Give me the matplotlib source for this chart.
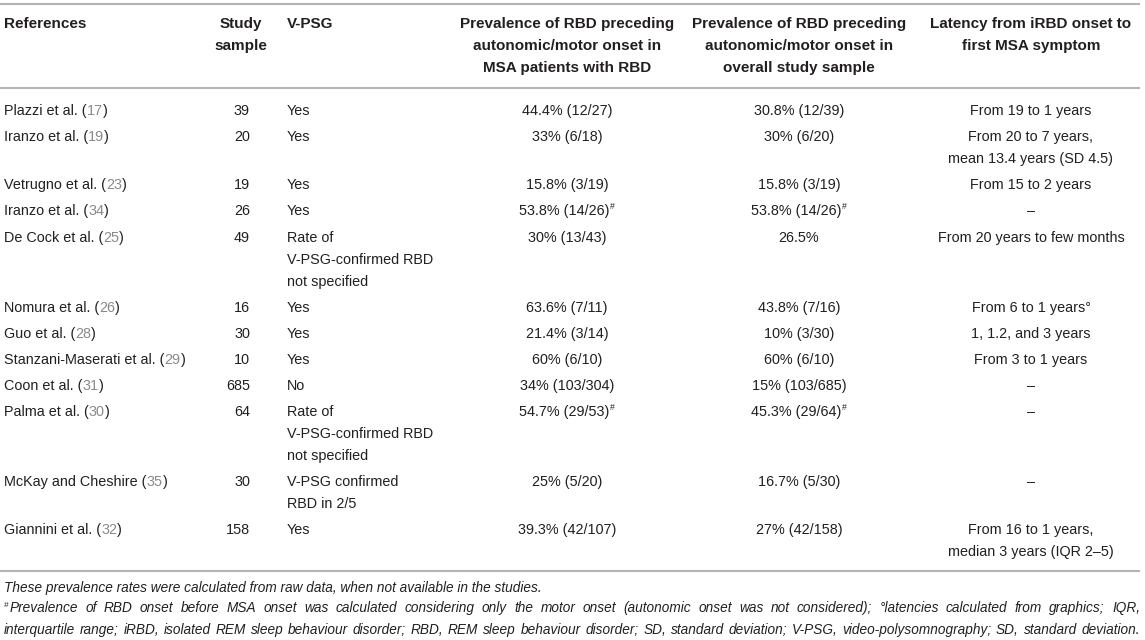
import matplotlib
matplotlib.use("Agg")
import matplotlib.pyplot as plt

# table content
headers = [
    "References",
    "Study\nsample",
    "V-PSG",
    "Prevalence of RBD preceding\nautonomic/motor onset in\nMSA patients with RBD",
    "Prevalence of RBD preceding\nautonomic/motor onset in\noverall study sample",
    "Latency from iRBD onset to\nfirst MSA symptom",
]
references = ["Plazzi et al.", "Iranzo et al.", "Vetrugno et al.", "Iranzo et al.",
              "De Cock et al.", "Nomura et al.", "Guo et al.", "Stanzani-Maserati et al.",
              "Coon et al.", "Palma et al.", "McKay and Cheshire", "Giannini et al."]
ref_numbers = ["17", "19", "23", "34", "25", "26", "28", "29", "31", "30", "35", "32"]
study_sample = ["39", "20", "19", "26", "49", "16", "30", "10", "685", "64", "30", "158"]
vpsg = ["Yes", "Yes", "Yes", "Yes",
        "Rate of\nV-PSG-confirmed RBD\nnot specified",
        "Yes", "Yes", "Yes", "No",
        "Rate of\nV-PSG-confirmed RBD\nnot specified",
        "V-PSG confirmed\nRBD in 2/5", "Yes"]
# a trailing "#" is drawn as a superscript
prev_rbd = ["44.4% (12/27)", "33% (6/18)", "15.8% (3/19)", "53.8% (14/26)#",
            "30% (13/43)", "63.6% (7/11)", "21.4% (3/14)", "60% (6/10)",
            "34% (103/304)", "54.7% (29/53)#", "25% (5/20)", "39.3% (42/107)"]
prev_overall = ["30.8% (12/39)", "30% (6/20)", "15.8% (3/19)", "53.8% (14/26)#",
                "26.5%", "43.8% (7/16)", "10% (3/30)", "60% (6/10)",
                "15% (103/685)", "45.3% (29/64)#", "16.7% (5/30)", "27% (42/158)"]
latency = ["From 19 to 1 years", "From 20 to 7 years,\nmean 13.4 years (SD 4.5)",
           "From 15 to 2 years", "\u2013", "From 20 years to few months",
           "From 6 to 1 years\u00b0", "1, 1.2, and 3 years", "From 3 to 1 years",
           "\u2013", "\u2013", "\u2013", "From 16 to 1 years,\nmedian 3 years (IQR 2\u20135)"]
footnote1 = "These prevalence rates were calculated from raw data, when not available in the studies."
footnote2 = ("#Prevalence of RBD onset before MSA onset was calculated considering only the "
             "motor onset (autonomic onset was not considered); \u00b0latencies calculated from "
             "graphics; IQR,")
footnote3 = ("interquartile range; iRBD, isolated REM sleep behaviour disorder; RBD, REM sleep "
             "behaviour disorder; SD, standard deviation; V-PSG, video-polysomnography; SD, "
             "standard deviation.")

plt.rcParams['font.family'] = ['Liberation Sans', 'DejaVu Sans']

INK = '#231f20'
GREY = '#8a8a8a'
RULE = '#b4b4b4'
FS = 10.4
FS_HEAD = 11.0
LINE = 22.0
PAD = 4.1
BASE = 5.2   # baseline offset below visual line centre

fig = plt.figure(figsize=(11.45, 6.4), dpi=100)
ax = fig.add_axes([0, 0, 1, 1])
ax.set_xlim(0, 1145)
ax.set_ylim(640, 0)
ax.axis('off')
r = fig.canvas.get_renderer()


def snap(v):
    # keep baselines off half-pixel positions so glyphs line up
    return round(v) + 0.2


def width(t):
    return t.get_window_extent(r).width


# horizontal rules
for yy in [4, 88, 571]:
    ax.plot([0, 1140], [yy, yy], color=RULE, lw=1.5, solid_capstyle='butt')

# columns: (x, ha)
head_cols = [(4, 'left'), (241, 'center'), (287, 'left'), (567, 'center'), (799, 'center'), (1031, 'center')]
body_cols = [(4, 'left'), (250, 'right'), (287, 'left'), (567, 'center'), (799, 'center'), (1031, 'center')]


def line_with_sup(x, yb, main, ha, size):
    sup = ''
    if main.endswith('#') and len(main) > 1:
        main, sup = main[:-1], '#'
    t = ax.text(0, yb, main, ha='left', va='baseline', fontsize=size, color=INK)
    s = None
    w = width(t)
    if sup:
        s = ax.text(0, yb - 6, sup, ha='left', va='baseline', fontsize=size * 0.6, color=INK)
        w += width(s) + 1
    x0 = {'left': x, 'center': x - w / 2, 'right': x - w}[ha]
    t.set_x(x0)
    if s is not None:
        s.set_x(x0 + width(t) + 1)


def cell(x, y, s, ha, size=FS, weight='normal'):
    for i, ln in enumerate(s.split('\n')):
        yb = snap(y + i * LINE + BASE)
        if weight == 'bold':
            ax.text(x, yb, ln, ha=ha, va='baseline', fontsize=size, fontweight=weight, color=INK)
        else:
            line_with_sup(x, yb, ln, ha, size)


for (x, ha), h in zip(head_cols, headers):
    cell(x, 23, h, ha, FS_HEAD, 'bold')

y = 110.0
for i in range(len(references)):
    # reference name with grey citation number
    x = 4
    for piece, col in [(references[i] + " (", INK), (ref_numbers[i], GREY), (")", INK)]:
        t = ax.text(x, snap(y + BASE), piece, ha='left', va='baseline', fontsize=FS, color=col)
        x += width(t)
    row = [study_sample[i], vpsg[i], prev_rbd[i], prev_overall[i], latency[i]]
    for (cx, ha), s in zip(body_cols[1:], row):
        cell(cx, y, s, ha)
    nlines = max(s.count('\n') + 1 for s in row)
    y += nlines * LINE + PAD


def justify(text, x0, x1, yy, size):
    yb = snap(yy)
    words = text.split(' ')
    groups = []
    total = 0
    for w in words:
        parts = []
        if w.startswith('#'):
            s = ax.text(0, yb - 5, '#', ha='left', va='baseline', fontsize=size * 0.6,
                        style='italic', color=INK)
            parts.append((s, width(s) + 1))
            w = w[1:]
        t = ax.text(0, yb, w, ha='left', va='baseline', fontsize=size, style='italic', color=INK)
        parts.append((t, width(t)))
        gw = sum(p[1] for p in parts)
        groups.append((parts, gw))
        total += gw
    gap = (x1 - x0 - total) / (len(words) - 1)
    xx = x0
    for parts, gw in groups:
        px = xx
        for t, wd in parts:
            t.set_x(px)
            px += wd
        xx += gw + gap


probe = ax.text(0, 0, footnote3, fontsize=10, style='italic')
w3 = width(probe)
probe.remove()
fn_size = 10 * 1120 / w3

ax.text(4, snap(591.5), footnote1, ha='left', va='baseline', fontsize=fn_size, style='italic', color=INK)
justify(footnote2, 4, 1140, 612.5, fn_size)
justify(footnote3, 4, 1140, 633.5, fn_size)

fig.savefig('out.png', dpi=100)
